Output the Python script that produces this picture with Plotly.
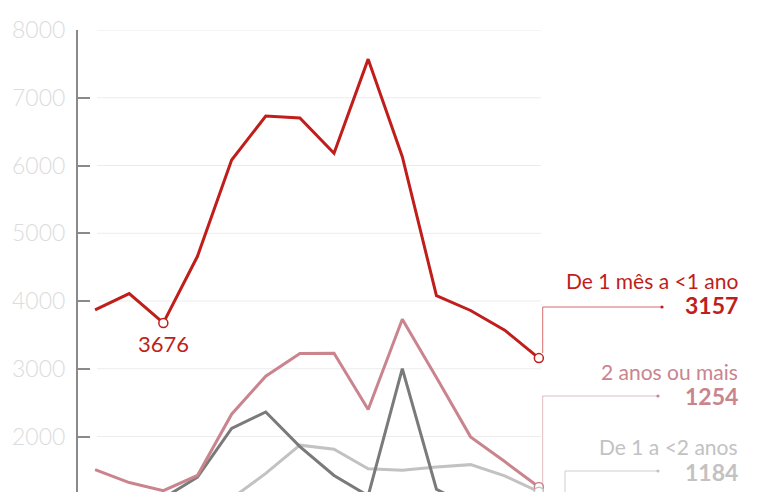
import plotly.graph_objects as go

# anos (eixo x nao aparece no recorte)
anos = [2009, 2010, 2011, 2012, 2013, 2014, 2015, 2016, 2017, 2018, 2019, 2020, 2021, 2022]

mes_a_1ano = [3870, 4110, 3676, 4660, 6080, 6730, 6700, 6180, 7570, 6130, 4080, 3860, 3570, 3157]
dois_ou_mais = [1510, 1320, 1200, 1425, 2330, 2890, 3225, 3230, 2400, 3730, 2870, 1995, 1630, 1254]
um_a_2anos = [1000, 980, 950, 900, 1085, 1455, 1872, 1812, 1525, 1503, 1550, 1585, 1420, 1184]
menos_1mes = [900, 920, 1090, 1400, 2120, 2362, 1850, 1425, 1125, 3003, 1222, 960, 900, 850]

y_ticks = [2000, 3000, 4000, 5000, 6000, 7000, 8000]

VERMELHO = "#bf1e1b"
ROSA = "#c9848e"
CINZA_ESC = "#7a7a7a"
CINZA_CLARO = "#c2c2c2"

W, H = 761, 492
L, R, T, B = 78, 216, 30, 0
FONTE = "Lato"


def px(x):
    return (x - L) / (W - L - R)


def py(y):
    return (H - B - y) / (H - T - B)


fig = go.Figure()

for serie, cor in [(um_a_2anos, CINZA_CLARO), (menos_1mes, CINZA_ESC),
                   (dois_ou_mais, ROSA), (mes_a_1ano, VERMELHO)]:
    fig.add_trace(go.Scatter(x=anos, y=serie, mode="lines",
                             line=dict(color=cor, width=3), hoverinfo="skip"))

# marcadores abertos
for serie, cor, idx in [(mes_a_1ano, VERMELHO, [2, 13]), (dois_ou_mais, ROSA, [13]),
                        (um_a_2anos, CINZA_CLARO, [13])]:
    fig.add_trace(go.Scatter(x=[anos[i] for i in idx], y=[serie[i] for i in idx],
                             mode="markers",
                             marker=dict(symbol="circle", size=9, color="white",
                                         line=dict(color=cor, width=1.5)),
                             hoverinfo="skip"))

shapes = []
for v in y_ticks:
    shapes.append(dict(type="line", xref="paper", yref="y", x0=px(97), x1=px(541),
                       y0=v, y1=v, line=dict(color="#ececec", width=1), layer="below"))

# conectores das etiquetas
conectores = [
    (VERMELHO, "rgba(191,30,27,0.65)", 542.7, 353, 307, 662),
    (ROSA, "rgba(201,132,142,0.55)", 542.7, 486, 396, 658),
    (CINZA_CLARO, "rgba(194,194,194,0.8)", 565, 500, 471, 658),
]
for cor, cor_l, xv, y_a, y_b, x_fim in conectores:
    shapes.append(dict(type="line", xref="paper", yref="paper", x0=px(xv), x1=px(xv),
                       y0=py(y_a), y1=py(y_b), line=dict(color=cor_l, width=1)))
    shapes.append(dict(type="line", xref="paper", yref="paper", x0=px(xv), x1=px(x_fim),
                       y0=py(y_b), y1=py(y_b), line=dict(color=cor_l, width=1)))
    shapes.append(dict(type="circle", xref="paper", yref="paper", xsizemode="pixel",
                       ysizemode="pixel", xanchor=px(x_fim), yanchor=py(y_b),
                       x0=-1.6, x1=1.6, y0=-1.6, y1=1.6,
                       fillcolor=cor, line=dict(width=0)))

annotations = [
    dict(x=anos[2], y=mes_a_1ano[2], xref="x", yref="y", text=str(mes_a_1ano[2]),
         showarrow=False, yshift=-21, yanchor="middle",
         font=dict(family=FONTE, size=22, color=VERMELHO)),
]
etiquetas = [
    ("De 1 mês a <1 ano", mes_a_1ano[-1], VERMELHO, 280, 305),
    ("2 anos ou mais", dois_ou_mais[-1], ROSA, 371, 396),
    ("De 1 a <2 anos", um_a_2anos[-1], CINZA_CLARO, 446, 472),
]
for nome, valor, cor, y_nome, y_valor in etiquetas:
    annotations.append(dict(x=px(740), y=py(y_nome), xref="paper", yref="paper",
                            text=nome, showarrow=False, xanchor="right", yanchor="middle",
                            font=dict(family=FONTE, size=21, color=cor)))
    annotations.append(dict(x=px(740), y=py(y_valor), xref="paper", yref="paper",
                            text="<b>%d</b>" % valor, showarrow=False, xanchor="right",
                            yanchor="middle", font=dict(family=FONTE, size=23, color=cor)))

fig.update_layout(
    width=W, height=H,
    margin=dict(l=L, r=R, t=T, b=B, pad=0),
    plot_bgcolor="white", paper_bgcolor="white",
    showlegend=False,
    shapes=shapes,
    annotations=annotations,
    font=dict(family=FONTE),
)
fig.update_xaxes(range=[2008.5, 2022.18], showgrid=False, zeroline=False,
                 showticklabels=False, showline=False, ticks="")
fig.update_yaxes(range=[1181, 8000], tickvals=y_ticks, showgrid=False, zeroline=False,
                 showline=True, linecolor="#8a8a8a", linewidth=2,
                 ticks="inside", ticklen=12, tickwidth=2, tickcolor="#8a8a8a",
                 ticklabelstandoff=6,
                 tickfont=dict(family=FONTE, size=23, color="#dcdcdc", weight=300))

fig.write_html("out.html", config={"displayModeBar": False},
               post_script="document.body.style.margin='0';")
